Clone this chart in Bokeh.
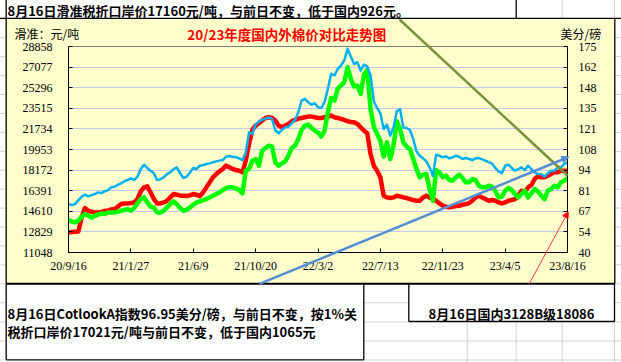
import numpy as np
import pandas as pd
from bokeh.plotting import figure
from bokeh.models import Range1d, LinearAxis, FixedTicker, CustomJSTickFormatter, Grid, ColumnDataSource
from bokeh.core.properties import value
from bokeh.embed import file_html
from bokeh.resources import INLINE

# ---------------- data (weekly) ----------------
start_date = "2020-09-16"
n_weeks = 153
dates = pd.date_range(start_date, periods=n_weeks, freq="7D")

# red: domestic 3128B price, yuan/ton (left axis)
domestic_3128b = [
    12783, 12812, 12840, 12869, 14081, 14889, 14659, 14572, 14514, 14514,
    14543, 14659, 14659, 14774, 14803, 15005, 15236, 15294, 15294, 15322,
    15380, 15669, 16332, 16679, 16765, 16246, 15669, 15294, 15294, 15380,
    15524, 15813, 16102, 16044, 15957, 15957, 15928, 15986, 16102, 16044,
    15928, 16246, 16679, 17112, 17545, 17833, 18064, 18266, 18555, 18410,
    18266, 18180, 18122, 17977, 18988, 20431, 21643, 22018, 22220, 22451,
    22682, 22739, 22682, 22451, 22018, 21874, 22018, 22162, 22393, 22509,
    22624, 22682, 22739, 22797, 22797, 22739, 22682, 22682, 22739, 22797,
    22884, 22739, 22682, 22595, 22509, 22393, 22335, 22306, 22162, 21874,
    21585, 21354, 19565, 18555, 18122, 17545, 15957, 15813, 15755, 15813,
    15957, 15900, 15813, 15755, 15669, 15582, 15524, 15524, 15813, 15957,
    15813, 15669, 15524, 15294, 15091, 15005, 14947, 15005, 15063, 15091,
    15178, 15236, 15322, 15524, 15813, 15957, 15813, 15669, 15524, 15582,
    15524, 15380, 15294, 15380, 15524, 15582, 15669, 15957, 16390, 16246,
    16679, 16881, 17400, 17631, 17545, 17545, 17689, 17833, 17977, 17977,
    18122, 18122, 18086]

# green: import price (slide-scale duty), yuan/ton (left axis)
import_price = [
    13851, 13735, 13648, 13793, 14139, 14370, 14226, 14081, 14226, 14312,
    14428, 14370, 14514, 14514, 14514, 14572, 14659, 14716, 14803, 14659,
    14889, 15294, 15669, 15813, 15380, 15005, 14947, 14514, 14514, 14659,
    14947, 15236, 15467, 15236, 14889, 14659, 14745, 14947, 15178, 15380,
    15467, 15582, 15669, 15813, 15957, 16102, 16246, 16448, 16621, 16679,
    16679, 16592, 16448, 16159, 18122, 18266, 18988, 19132, 18555, 19853,
    20084, 20286, 20200, 18843, 18555, 18757, 18930, 19420, 20084, 20286,
    20863, 21643, 22018, 22104, 21816, 21585, 21412, 21066, 21585, 23172,
    24413, 24182, 25192, 25481, 25770, 27068, 26058, 25395, 25481, 24760,
    26433, 26838, 23461, 21931, 21296, 20719, 19334, 20575, 19132, 20286,
    22393, 21729, 20575, 20200, 19998, 19132, 18266, 17545, 17775, 17833,
    16534, 15524, 18180, 17977, 17545, 17689, 17314, 17256, 17545, 17775,
    17487, 17112, 17112, 17400, 17314, 16823, 16679, 16679, 16823, 16737,
    16390, 15813, 15871, 16390, 16621, 16448, 16102, 15813, 16102, 16390,
    15813, 16159, 16534, 16332, 15957, 15669, 16390, 16534, 16823, 16679,
    17112, 17256, 17487]

# blue: Cotlook A index, US cents/lb (right axis)
cotlook_a = [
    71.7, 71.1, 71.7, 74.3, 76.5, 77.9, 76.8, 77.6, 78.3, 79.4,
    78.9, 80.0, 80.9, 82.7, 83.1, 84.4, 85.3, 86.6, 87.5, 88.6,
    87.5, 89.7, 94.7, 97.5, 95.4, 93.6, 91.9, 87.5, 88.1, 89.2,
    91.4, 92.5, 94.7, 95.8, 91.9, 88.8, 89.7, 92.5, 95.4, 94.7,
    96.9, 97.3, 98.0, 98.4, 99.1, 99.7, 100.2, 100.6, 102.8, 103.2,
    102.8, 102.4, 101.7, 100.6, 105.6, 118.8, 117.7, 123.8, 126.0, 126.9,
    127.7, 128.6, 127.5, 119.9, 118.1, 120.3, 122.0, 122.5, 124.7, 126.9,
    131.9, 139.6, 140.6, 138.5, 136.9, 137.8, 135.2, 134.7, 138.5, 147.2,
    157.1, 156.0, 160.3, 162.5, 165.8, 173.5, 168.4, 163.6, 164.7, 159.2,
    163.2, 161.9, 156.0, 139.1, 134.7, 131.2, 121.0, 123.8, 116.6, 122.0,
    132.6, 133.9, 122.0, 121.6, 120.3, 114.4, 106.3, 103.4, 101.7, 99.7,
    95.8, 90.3, 104.1, 103.4, 102.4, 103.0, 101.7, 102.4, 103.4, 102.8,
    101.3, 101.9, 101.3, 100.6, 101.7, 101.9, 101.0, 100.2, 99.1, 98.4,
    95.4, 93.2, 91.9, 96.9, 97.5, 95.4, 93.6, 94.7, 95.8, 94.0,
    96.9, 94.7, 92.5, 91.4, 91.4, 89.7, 91.9, 93.6, 93.6, 95.8,
    95.8, 98.0, 99.1]

x_tick_dates = ["2020-09-16", "2021-01-27", "2021-06-09", "2021-10-20", "2022-03-02",
                "2022-07-13", "2022-11-23", "2023-04-05", "2023-08-16"]
x_tick_labels = ["20/9/16", "21/1/27", "21/6/9", "21/10/20", "22/3/2",
                 "22/7/13", "22/11/23", "23/4/5", "23/8/16"]
left_ticks = [11048, 12829, 14610, 16391, 18172, 19953, 21734, 23515, 25296, 27077, 28858]
left_tick_labels = [str(v) for v in left_ticks]
right_ticks = [40, 53.5, 67, 80.5, 94, 107.5, 121, 134.5, 148, 161.5, 175]
right_tick_labels = ["40", "54", "67", "81", "94", "108", "121", "135", "148", "162", "175"]

title_text = "20/23年度国内外棉价对比走势图"
left_unit = "滑准：元/吨"
right_unit = "美分/磅"
top_note = "8月16日滑准税折口岸价17160元/吨，与前日不变，低于国内926元。"
bottom_note_1 = "8月16日CotlookA指数96.95美分/磅，与前日不变，按1%关"
bottom_note_2 = "税折口岸价17021元/吨与前日不变，低于国内1065元"
right_note = "8月16日国内3128B级18086"

# ---------------- figure ----------------
YELLOW = "#FFFFCC"
CJK = value("Noto Sans CJK SC")
NUM_FONT = "Liberation Serif"

epoch = pd.Timestamp("1970-01-01")
x_ticks_ms = [float((pd.Timestamp(d) - epoch) / pd.Timedelta(milliseconds=1)) for d in x_tick_dates]

W, H = 621, 362
BL, BR, BT, BB = 68, 54, 46, 110

p = figure(width=W, height=H, output_backend="svg", toolbar_location=None,
           x_axis_type=None, y_axis_type=None,
           x_range=Range1d(x_ticks_ms[0], x_ticks_ms[-1]),
           y_range=Range1d(left_ticks[0], left_ticks[-1]),
           min_border_left=BL, min_border_right=BR, min_border_top=BT, min_border_bottom=BB)
p.extra_y_ranges = {"right": Range1d(right_ticks[0], right_ticks[-1]),
                    "py": Range1d(H - BB, BT)}
p.extra_x_ranges = {"px": Range1d(BL, W - BR)}

p.background_fill_color = YELLOW
p.border_fill_color = YELLOW
p.outline_line_color = "#808080"
p.outline_line_width = 1


def fixed_labels(vals, labels):
    return CustomJSTickFormatter(args=dict(tv=list(vals), tl=list(labels)),
                                 code="const i = tv.indexOf(tick); return i < 0 ? '' : tl[i];")


def style_axis(ax, standoff):
    ax.axis_line_color = "black"
    ax.axis_line_width = 1
    ax.major_tick_in = 4
    ax.major_tick_out = 0
    ax.major_tick_line_color = "black"
    ax.minor_tick_line_color = None
    ax.major_label_text_font = NUM_FONT
    ax.major_label_text_font_size = "12px"
    ax.major_label_text_color = "black"
    ax.major_label_standoff = standoff


yl = LinearAxis(ticker=FixedTicker(ticks=left_ticks), formatter=fixed_labels(left_ticks, left_tick_labels))
style_axis(yl, 16)
p.add_layout(yl, "left")

yr = LinearAxis(y_range_name="right", ticker=FixedTicker(ticks=right_ticks),
                formatter=fixed_labels(right_ticks, right_tick_labels))
style_axis(yr, 11)
p.add_layout(yr, "right")

xb = LinearAxis(ticker=FixedTicker(ticks=x_ticks_ms), formatter=fixed_labels(x_ticks_ms, x_tick_labels))
style_axis(xb, 6)
p.add_layout(xb, "below")

grid = Grid(dimension=1, ticker=FixedTicker(ticks=left_ticks[1:-1]),
            grid_line_color="#C4C8EC", grid_line_width=1)
p.add_layout(grid)

# ---------------- series ----------------
src = ColumnDataSource(dict(date=dates, red=domestic_3128b, green=import_price, blue=cotlook_a))
p.line("date", "red", source=src, line_color="#FF0000", line_width=4.5, line_join="round")
p.line("date", "green", source=src, line_color="#00FF00", line_width=4.5, line_join="round")
p.line("date", "blue", source=src, line_color="#00B0F0", line_width=2.5, line_join="round",
       y_range_name="right")

# ---------------- sheet decorations (pixel space of the sheet) ----------------
D = dict(x_range_name="px", y_range_name="py", level="overlay")
CL, CR, CT, CBm = 5.7, 614.3, 17.8, 283.3     # chart-area edges

# white spreadsheet cells around the chart area
p.quad(left=[-10, -10, -10, CR], right=[W + 10, W + 10, CL, W + 10],
       top=[-10, CBm, -10, -10], bottom=[CT, H + 10, H + 10, H + 10],
       fill_color="white", line_color=None, **D)

# light spreadsheet gridlines
GRAY = "#D0D0D0"
rows = [18.3, 37.2, 56.2, 75.1, 94.0, 112.9, 131.9, 150.8, 169.7, 188.7, 207.6, 226.5,
        245.4, 264.4, 283.3, 302.3, 321.5, 340.5, 359.5]
gx0, gy0, gx1, gy1 = [], [], [], []
for r in rows:
    gx0 += [-10, CR]; gx1 += [CL, W + 10]; gy0 += [r, r]; gy1 += [r, r]
for r in [302.3, 321.5, 340.5, 359.5]:
    gx0.append(363.3); gx1.append(408.3); gy0.append(r); gy1.append(r)
for r in [340.5, 359.5]:
    gx0.append(408.3); gx1.append(CR); gy0.append(r); gy1.append(r)
for c in [466.7, 515.7, 561.7, 614.0]:
    gx0.append(c); gx1.append(c); gy0.append(321); gy1.append(H + 10)
for c in [561.7, 614.0]:
    gx0.append(c); gx1.append(c); gy0.append(-10); gy1.append(CT)
p.segment(x0=gx0, y0=gy0, x1=gx1, y1=gy1, line_color=GRAY, line_width=1, **D)

# black cell / chart borders
bx0 = [-10, CL, CL, CR, 515.7, CL, 363.3, CL, 408.3, 614.0, 408.3]
by0 = [CT, -10, CT, CT, -10, CBm, CBm, 359.3, CBm, CBm, 321.0]
bx1 = [W + 10, CL, CL, CR, 515.7, CL, 363.3, 363.3, 408.3, 614.0, 614.0]
by1 = [CT, CT, CBm, CBm, CT, 359.3, 359.3, 359.3, 321.0, 321.0, 321.0]
p.segment(x0=bx0, y0=by0, x1=bx1, y1=by1, line_color="black", line_width=1.3, **D)
p.segment(x0=[CL], y0=[CBm], x1=[CR], y1=[CBm], line_color="black", line_width=2, **D)

# drawn shapes over the chart
p.segment(x0=[399], y0=[19], x1=[567], y1=[175], line_color="#77933C", line_width=2.5, **D)
p.segment(x0=[259], y0=[CBm], x1=[567], y1=[157], line_color="#558ED5", line_width=2.5, **D)
p.segment(x0=[528.7], y0=[CBm], x1=[567], y1=[212.7], line_color="#FF4040", line_width=1, **D)


def arrow_head(x0, y0, x1, y1, length, half_width):
    d = np.array([x1 - x0, y1 - y0], float)
    d /= np.hypot(d[0], d[1])
    n = np.array([-d[1], d[0]])
    tip = np.array([x1, y1]) + d * 1.5
    base = tip - d * length
    pts = [tip, base + n * half_width, base - n * half_width]
    return [float(q[0]) for q in pts], [float(q[1]) for q in pts]


hx, hy = arrow_head(259, CBm, 567, 157, 7, 3.5)
p.patch(hx, hy, fill_color="#558ED5", line_color="#558ED5", **D)
hx, hy = arrow_head(528.7, CBm, 567, 212.7, 6, 3)
p.patch(hx, hy, fill_color="#FF0000", line_color="#FF0000", **D)

# texts
p.text(x=[7], y=[9.5], text=[top_note], text_font=CJK, text_font_size="13px", text_font_style="bold",
       text_color="black", text_align="left", text_baseline="middle", **D)
p.text(x=[14], y=[33.3], text=[left_unit], text_font=CJK, text_font_size="12px",
       text_color="black", text_align="left", text_baseline="middle", **D)
p.text(x=[286.3], y=[33.3], text=[title_text], text_font=CJK, text_font_size="13.5px", text_font_style="bold",
       text_color="#FF0000", text_align="center", text_baseline="middle", **D)
p.text(x=[560], y=[33.3], text=[right_unit], text_font=CJK, text_font_size="12px",
       text_color="black", text_align="left", text_baseline="middle", **D)
p.text(x=[7, 7], y=[313, 330.5], text=[bottom_note_1, bottom_note_2], text_font=CJK, text_font_size="13px",
       text_font_style="bold", text_color="black", text_align="left", text_baseline="middle", **D)
p.text(x=[511], y=[313], text=[right_note], text_font=CJK, text_font_size="13px", text_font_style="bold",
       text_color="black", text_align="center", text_baseline="middle", **D)

open("out.html", "w", encoding="utf-8").write(file_html(p, INLINE))
